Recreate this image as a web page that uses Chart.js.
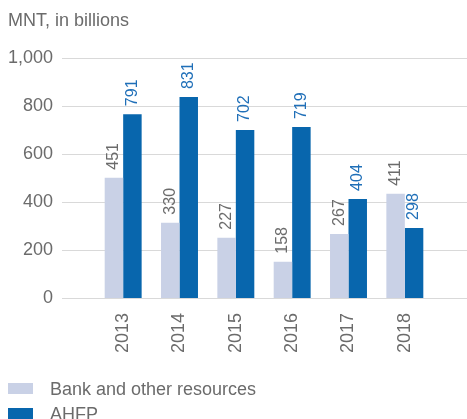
<!DOCTYPE html>
<html>
<head>
<meta charset="utf-8">
<script src="https://cdn.jsdelivr.net/npm/chart.js@4.4.1/dist/chart.umd.min.js"></script>
<style>
  html, body { margin: 0; padding: 0; background: #fff; }
  #wrap { position: relative; width: 467px; height: 419px; overflow: hidden; font-family: 'Liberation Sans', Arial, sans-serif; color: #6b6b6b; }
  #title { position: absolute; left: 8px; top: 10px; font-size: 18px; line-height: 20px; white-space: nowrap; }
  .leg { position: absolute; left: 8px; font-size: 18px; line-height: 20px; white-space: nowrap; }
  .leg .box { position: absolute; left: 0; width: 25px; height: 11px; }
  .leg .txt { position: absolute; left: 42px; top: 0; }
  canvas { position: absolute; left: 0; top: 0; }
</style>
</head>
<body>
<div id="wrap">
  <canvas id="c" width="467" height="419"></canvas>
  <div id="title">MNT, in billions</div>
  <div class="leg" style="top:379px"><div class="box" style="top:4px;background:#c9d1e6"></div><div class="txt">Bank and other resources</div></div>
  <div class="leg" style="top:404px"><div class="box" style="top:4px;background:#0866ad"></div><div class="txt">AHFP</div></div>
</div>
<script>
const years = ['2013', '2014', '2015', '2016', '2017', '2018'];
const bankValues = [501, 314, 251, 151, 267, 434];
const bankLabels = ['451', '330', '227', '158', '267', '411'];
const ahfpValues = [766, 837, 700, 712, 413, 292];
const ahfpLabels = ['791', '831', '702', '719', '404', '298'];
const yTicks = [0, 200, 400, 600, 800, 1000];

const FONT = "'Liberation Sans', Arial, sans-serif";

const gridPlugin = {
  id: 'extGrid',
  beforeDatasetsDraw(chart) {
    const ctx = chart.ctx;
    const y = chart.scales.y;
    ctx.save();
    ctx.strokeStyle = '#d9d9d9';
    ctx.lineWidth = 1;
    yTicks.forEach(v => {
      const py = Math.round(y.getPixelForValue(v)) + 0.5;
      ctx.beginPath();
      ctx.moveTo(62, py);
      ctx.lineTo(467, py);
      ctx.stroke();
    });
    ctx.restore();
  }
};

const labelPlugin = {
  id: 'barLabels',
  afterDatasetsDraw(chart) {
    const ctx = chart.ctx;
    chart.data.datasets.forEach((ds, i) => {
      const meta = chart.getDatasetMeta(i);
      meta.data.forEach((el, j) => {
        ctx.save();
        ctx.translate(el.x, el.y - 8);
        ctx.rotate(-Math.PI / 2);
        ctx.font = '16px ' + FONT;
        ctx.fillStyle = ds.labelColor;
        ctx.textAlign = 'left';
        ctx.textBaseline = 'middle';
        ctx.fillText(ds.labels[j], 0, 0);
        ctx.restore();
      });
    });
  }
};

new Chart(document.getElementById('c'), {
  type: 'bar',
  data: {
    labels: years,
    datasets: [
      { label: 'Bank and other resources', data: bankValues, labels: bankLabels, labelColor: '#6b6b6b',
        backgroundColor: '#c9d1e6', barPercentage: 1, categoryPercentage: 0.656 },
      { label: 'AHFP', data: ahfpValues, labels: ahfpLabels, labelColor: '#1f6fb8',
        backgroundColor: '#0866ad', barPercentage: 1, categoryPercentage: 0.656 }
    ]
  },
  options: {
    responsive: false,
    animation: false,
    devicePixelRatio: 1,
    layout: { padding: { left: 8, right: 34, top: 58, bottom: 66 } },
    plugins: { legend: { display: false }, title: { display: false }, tooltip: { enabled: false } },
    scales: {
      x: {
        grid: { display: false, drawTicks: false },
        border: { display: false },
        afterFit(axis) { axis.height = 55; },
        ticks: { color: '#6b6b6b', font: { size: 18, family: FONT }, minRotation: 90, maxRotation: 90, padding: 15 }
      },
      y: {
        min: 0, max: 1000,
        afterBuildTicks(axis) { axis.ticks = yTicks.map(v => ({ value: v })); },
        afterFit(axis) { axis.width = 87; },
        grid: { display: false, drawTicks: false },
        border: { display: false },
        ticks: { color: '#6b6b6b', font: { size: 18, family: FONT }, padding: 42,
          callback: v => v.toLocaleString('en-US') }
      }
    }
  },
  plugins: [gridPlugin, labelPlugin]
});
</script>
</body>
</html>
